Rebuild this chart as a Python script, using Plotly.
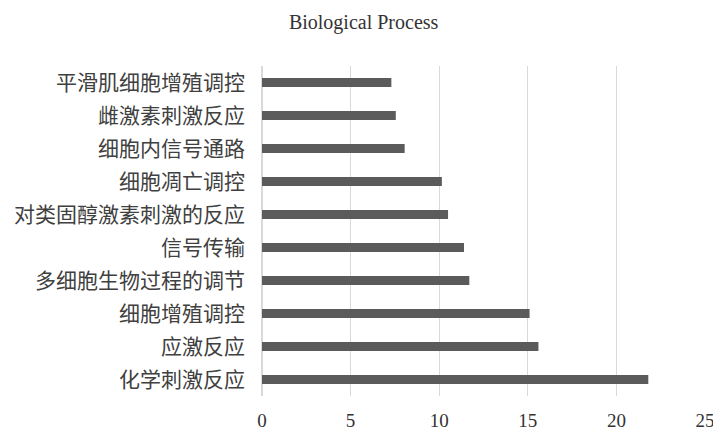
import plotly.graph_objects as go

categories = ["化学刺激反应", "应激反应", "细胞增殖调控", "多细胞生物过程的调节", "信号传输",
              "对类固醇激素刺激的反应", "细胞凋亡调控", "细胞内信号通路", "雌激素刺激反应", "平滑肌细胞增殖调控"]
values = [21.8, 15.6, 15.1, 11.7, 11.4, 10.5, 10.15, 8.05, 7.55, 7.3]
x_ticks = [0, 5, 10, 15, 20, 25]

fig = go.Figure(go.Bar(
    y=categories, x=values, orientation="h",
    marker=dict(color="#5b5b5b", line=dict(width=0)),
    width=0.27,
))

fig.update_layout(
    width=713, height=434,
    margin=dict(l=262, r=8, t=66, b=38, autoexpand=False),
    paper_bgcolor="white", plot_bgcolor="white",
    showlegend=False,
    title=dict(text="Biological Process", x=0.51, xanchor="center", y=0.95, yanchor="middle",
               font=dict(family="Liberation Serif, Noto Sans CJK SC", size=20, color="#333333")),
    font=dict(family="Liberation Serif, Noto Sans CJK SC", color="#404040"),
)
fig.update_xaxes(range=[0, 25], tickvals=x_ticks, showgrid=True, gridcolor="#d9d9d9", gridwidth=1,
                 zeroline=True, zerolinecolor="#d9d9d9", showline=False, automargin=False,
                 ticklabeloverflow="allow",
                 ticklabelstandoff=11, tickfont=dict(size=19, color="#333333",
                 family="Liberation Serif"))
fig.update_yaxes(categoryorder="array", categoryarray=categories, range=[-0.5, 9.5],
                 showgrid=False, showline=False, ticklabelstandoff=16, automargin=False,
                 tickfont=dict(size=21, color="#404040", family="Noto Sans CJK SC"))

fig.write_html("out.html", config={"displayModeBar": False},
               post_script="document.body.style.margin='0';document.body.style.overflow='hidden';")
